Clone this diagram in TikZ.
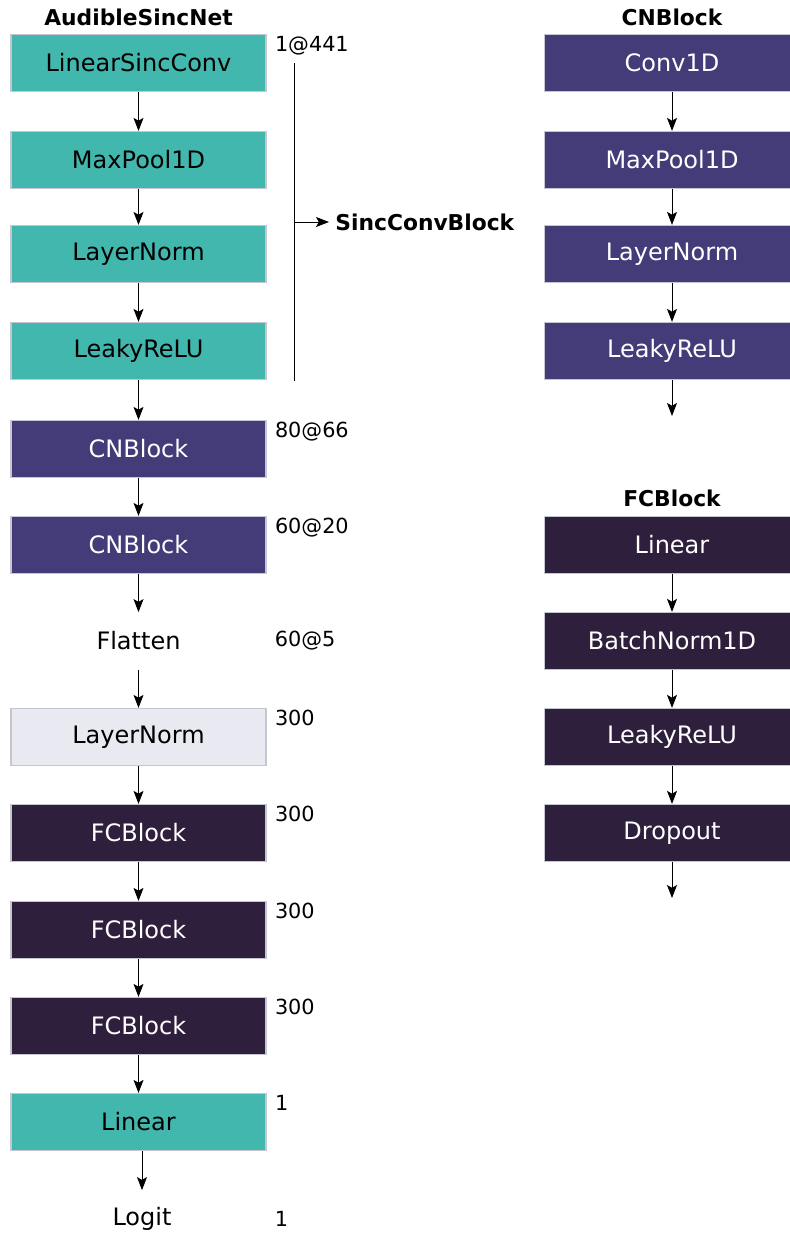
\documentclass[tikz,border=0pt]{standalone}
\usepackage{fontspec}
\setmainfont{DejaVu Sans}
\usepackage{tikz}
\usetikzlibrary{arrows.meta, positioning}
\definecolor{sinc}{HTML}{42B7AE}
\definecolor{conv}{HTML}{433C78}
\definecolor{dense}{HTML}{2E1F3C}
\definecolor{normbg}{HTML}{E8E9F1}
\definecolor{edge}{HTML}{C4C6D0}

\begin{document}
\begin{tikzpicture}[x=0.5pt, y=-0.5pt, font=\fontsize{12}{14}\selectfont,
  blk/.style={minimum width=127.5pt, minimum height=28.5pt, inner sep=0pt},
  layerbox/.style={blk, draw=edge, line width=0.6pt},
  sincl/.style={layerbox, fill=sinc, text=black},
  convl/.style={layerbox, fill=conv, text=white},
  densel/.style={layerbox, fill=dense, text=white},
  norml/.style={layerbox, fill=normbg, text=black},
  dims/.style={anchor=north west, inner sep=0pt, font=\fontsize{10.4}{12}\selectfont},
  dimsc/.style={anchor=west, inner sep=0pt, font=\fontsize{10.4}{12}\selectfont},
  headline/.style={font=\fontsize{10.9}{13}\selectfont\bfseries},
  flow/.style={-{Stealth[length=6.5pt, width=5pt, inset=1.4pt]}, line width=0.45pt}]
  \useasboundingbox (0,0) rectangle (790,1234);
  \clip (0,0) rectangle (790,1234);
  % AudibleSincNet
  \node[headline] (tnet) at (138.5,17) {AudibleSincNet};
  \node[sincl] (lsc) at (138.5,63) {LinearSincConv};
  \node[sincl] (mp) at (138.5,160) {MaxPool1D};
  \node[sincl] (ln1) at (138.5,254) {LayerNorm};
  \node[sincl] (lrelu) at (138.5,351) {LeakyReLU};
  \node[convl] (cn1) at (138.5,449) {CNBlock};
  \node[convl] (cn2) at (138.5,545) {CNBlock};
  \node[blk] (flat) at (138.5,641) {Flatten};
  \node[norml] (ln2) at (138.5,737) {LayerNorm};
  \node[densel] (fc1) at (138.5,833) {FCBlock};
  \node[densel] (fc2) at (138.5,930) {FCBlock};
  \node[densel] (fc3) at (138.5,1026) {FCBlock};
  \node[sincl] (lin) at (138.5,1122) {Linear};
  \node[blk] (logit) at (142,1219) {Logit};
  \foreach \a/\b in {lsc/mp, mp/ln1, ln1/lrelu, lrelu/cn1, cn1/cn2, cn2/flat,
                     flat/ln2, ln2/fc1, fc1/fc2, fc2/fc3, fc3/lin}
    \draw[flow] (\a) -- (\b);
  \draw[flow] (lin.south -| logit.north) -- (logit.north);
  % output sizes
  \node[dims] (d1) at ([xshift=4pt, yshift=-1pt]lsc.north east) {1@441};
  \node[dims] (d2) at ([xshift=4pt, yshift=-1pt]cn1.north east) {80@66};
  \node[dims] (d3) at ([xshift=4pt, yshift=-1pt]cn2.north east) {60@20};
  \node[dimsc] (d4) at ([xshift=4pt]flat.east) {60@5};
  \node[dims] (d5) at ([xshift=4pt, yshift=-1pt]ln2.north east) {300};
  \node[dims] (d6) at ([xshift=4pt, yshift=-1pt]fc1.north east) {300};
  \node[dims] (d7) at ([xshift=4pt, yshift=-1pt]fc2.north east) {300};
  \node[dims] (d8) at ([xshift=4pt, yshift=-1pt]fc3.north east) {300};
  \node[dims] (d9) at ([xshift=4pt, yshift=-1pt]lin.north east) {1};
  \node[dimsc] (d10) at (logit -| d4.west) {1};
  % SincConvBlock bracket
  \coordinate (brtop) at (294,63);
  \coordinate (brbot) at (294,381);
  \node[headline, anchor=west, inner sep=3pt] (scb) at (329,222) {SincConvBlock};
  \draw[line width=0.45pt] (brtop) -- (brbot);
  \draw[flow] (brtop |- scb.west) -- (scb.west);
  % CNBlock
  \node[headline] (tcn) at (672,17) {CNBlock};
  \node[convl] (c1) at (672,63) {Conv1D};
  \node[convl] (c2) at (672,160) {MaxPool1D};
  \node[convl] (c3) at (672,254) {LayerNorm};
  \node[convl] (c4) at (672,351) {LeakyReLU};
  \coordinate (cout) at (672,416);
  \foreach \a/\b in {c1/c2, c2/c3, c3/c4}
    \draw[flow] (\a) -- (\b);
  \draw[flow] (c4) -- (cout);
  % FCBlock
  \node[headline] (tfc) at (672,498) {FCBlock};
  \node[densel] (f1) at (672,545) {Linear};
  \node[densel] (f2) at (672,641) {BatchNorm1D};
  \node[densel] (f3) at (672,737) {LeakyReLU};
  \node[densel] (f4) at (672,833) {Dropout};
  \coordinate (fout) at (672,898);
  \foreach \a/\b in {f1/f2, f2/f3, f3/f4}
    \draw[flow] (\a) -- (\b);
  \draw[flow] (f4) -- (fout);
\end{tikzpicture}
\end{document}
